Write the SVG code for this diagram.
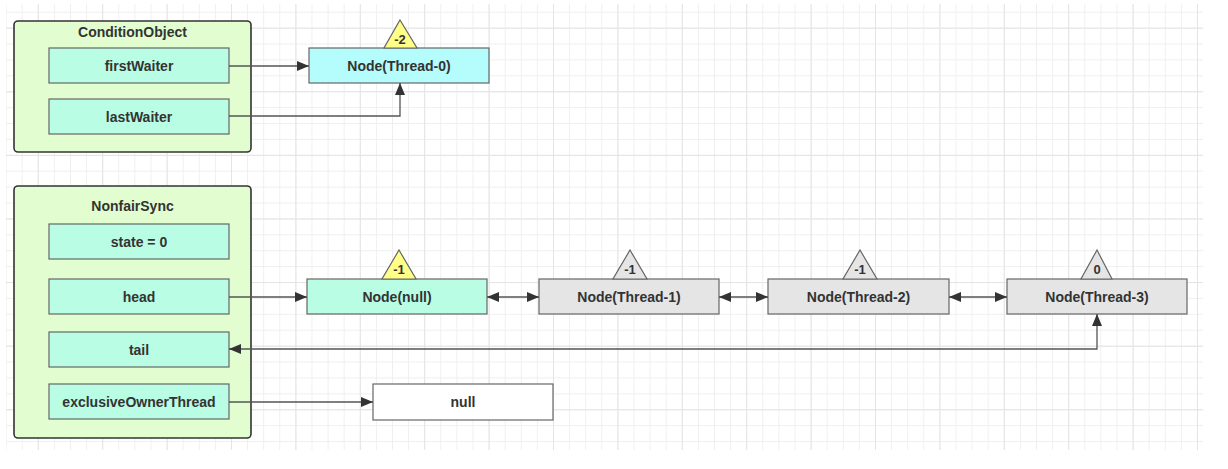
<svg xmlns="http://www.w3.org/2000/svg" width="1228" height="469" viewBox="0 0 1228 469">
  <style>
    .t{font-family:"Liberation Sans",Arial,sans-serif;font-weight:bold;font-size:14px;fill:#333;text-anchor:middle;dominant-baseline:central}
    .s{font-family:"Liberation Sans",Arial,sans-serif;font-weight:bold;font-size:13px;fill:#333;text-anchor:middle;dominant-baseline:central}
    .cont{fill:#e2fdd0;stroke:#333;stroke-width:1.6}
    .fld{fill:#b8fde4;stroke:#666;stroke-width:1.2}
    .cyan{fill:#b5fcfd;stroke:#666;stroke-width:1.2}
    .gray{fill:#e5e5e5;stroke:#666;stroke-width:1.2}
    .white{fill:#fff;stroke:#666;stroke-width:1.2}
    .tri-y{fill:#ffff88;stroke:#666;stroke-width:1.2}
    .tri-g{fill:#e5e5e5;stroke:#666;stroke-width:1.2}
    .e{fill:none;stroke:#555;stroke-width:1.3}
    .one{marker-end:url(#ah)}
    .two{marker-start:url(#ah);marker-end:url(#ah)}
  </style>
  <defs>
    <marker id="ah" markerUnits="userSpaceOnUse" markerWidth="13" markerHeight="11" refX="12" refY="5" orient="auto-start-reverse">
      <path d="M0,0 L12,5 L0,10 Z" fill="#333"/>
    </marker>
    <pattern id="gm" x="21.7" y="11.7" width="16.1" height="15.9" patternUnits="userSpaceOnUse">
      <path d="M0.5,0 V15.9 M0,0.5 H16.1" stroke="#efefef" stroke-width="1" fill="none"/>
    </pattern>
    <pattern id="gM" x="-26.6" y="-35.9" width="64.4" height="63.6" patternUnits="userSpaceOnUse">
      <path d="M0.5,0 V63.6 M0,0.5 H64.4" stroke="#e4e4e4" stroke-width="1" fill="none"/>
    </pattern>
  </defs>
  <rect width="1228" height="469" fill="#fff"/>
  <g id="grid">
    <rect x="6" y="4" width="1197" height="446" fill="url(#gm)"/>
    <rect x="6" y="4" width="1197" height="446" fill="url(#gM)"/>
  </g>

  <g id="conditionObject">
    <rect class="cont" x="14" y="21" width="237" height="131" rx="4"/>
    <text class="t" x="132.5" y="32">ConditionObject</text>
  </g>
  <g id="firstWaiter">
    <rect class="fld" x="49" y="48" width="180" height="35"/>
    <text class="t" x="139" y="66">firstWaiter</text>
  </g>
  <g id="lastWaiter">
    <rect class="fld" x="49" y="99" width="180" height="35"/>
    <text class="t" x="139" y="117">lastWaiter</text>
  </g>
  <g id="nodeThread0">
    <rect class="cyan" x="309" y="48" width="180" height="35"/>
    <text class="t" x="399" y="66">Node(Thread-0)</text>
    <path class="tri-y" d="M400,20 L417,48 L384,48 Z"/>
    <text class="s" x="400" y="39">-2</text>
  </g>

  <g id="nonfairSync">
    <rect class="cont" x="14" y="186" width="237" height="252" rx="4"/>
    <text class="t" x="132.5" y="206">NonfairSync</text>
  </g>
  <g id="state">
    <rect class="fld" x="49" y="224" width="180" height="35"/>
    <text class="t" x="139" y="242">state = 0</text>
  </g>
  <g id="head">
    <rect class="fld" x="49" y="279" width="180" height="35"/>
    <text class="t" x="139" y="297">head</text>
  </g>
  <g id="tail">
    <rect class="fld" x="49" y="332" width="180" height="35"/>
    <text class="t" x="139" y="350">tail</text>
  </g>
  <g id="exclusiveOwnerThread">
    <rect class="fld" x="49" y="384" width="180" height="35"/>
    <text class="t" x="139" y="402">exclusiveOwnerThread</text>
  </g>

  <g id="nodeNull">
    <rect class="fld" x="307" y="279" width="180" height="35"/>
    <text class="t" x="397" y="297">Node(null)</text>
    <path class="tri-y" d="M399,250 L416,279 L382,279 Z"/>
    <text class="s" x="399" y="269">-1</text>
  </g>
  <g id="nodeThread1">
    <rect class="gray" x="539" y="279" width="180" height="35"/>
    <text class="t" x="629" y="297">Node(Thread-1)</text>
    <path class="tri-g" d="M630,250 L647,279 L613,279 Z"/>
    <text class="s" x="630" y="269">-1</text>
  </g>
  <g id="nodeThread2">
    <rect class="gray" x="768" y="279" width="181" height="35"/>
    <text class="t" x="858.5" y="297">Node(Thread-2)</text>
    <path class="tri-g" d="M860,250 L877,279 L843,279 Z"/>
    <text class="s" x="860" y="269">-1</text>
  </g>
  <g id="nodeThread3">
    <rect class="gray" x="1007" y="279" width="180" height="35"/>
    <text class="t" x="1097" y="297">Node(Thread-3)</text>
    <path class="tri-g" d="M1097,250 L1112,279 L1081,279 Z"/>
    <text class="s" x="1097" y="269">0</text>
  </g>
  <g id="nullBox">
    <rect class="white" x="373" y="384" width="180" height="36"/>
    <text class="t" x="463" y="402">null</text>
  </g>

  <g id="connectors">
    <path class="e one" d="M229,66 H309"/>
    <path class="e one" d="M229,116 H400 V83"/>
    <path class="e one" d="M229,297 H307"/>
    <path class="e two" d="M487,297 H539"/>
    <path class="e two" d="M719,297 H768"/>
    <path class="e two" d="M949,297 H1007"/>
    <path class="e two" d="M229,349 H1097 V314"/>
    <path class="e one" d="M229,402 H373"/>
  </g>
</svg>
